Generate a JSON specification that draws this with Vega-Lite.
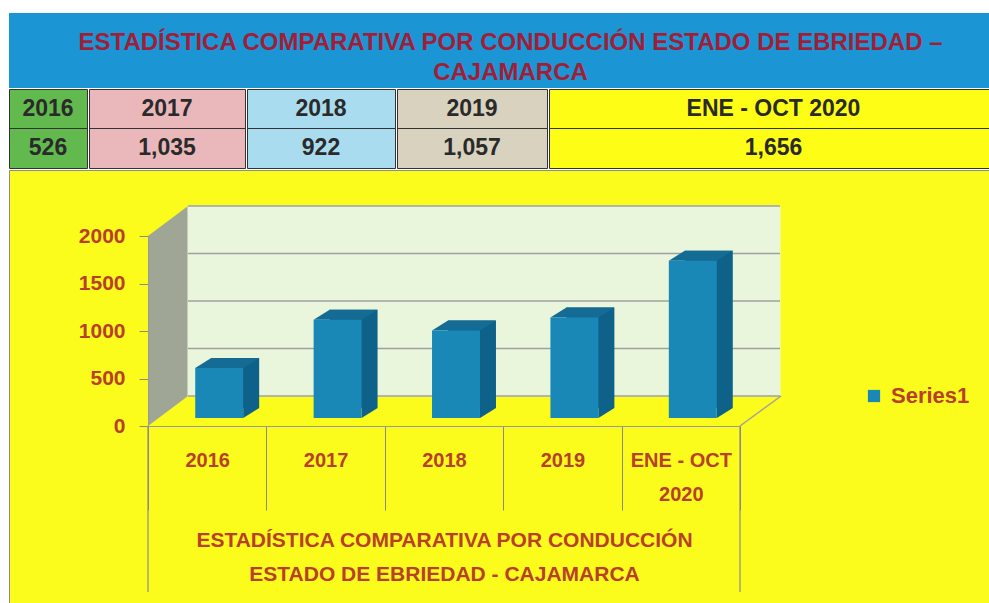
{
  "$schema": "https://vega.github.io/schema/vega-lite/v6.json",
  "background": "white",
  "padding": {"left": 8, "top": 13, "right": 0, "bottom": 0},
  "spacing": 0,
  "config": {"font": "Liberation Sans", "concat": {"spacing": 0}, "view": {"stroke": null}},
  "datasets": {
    "main": [
      {"period": "2016", "value": 526},
      {"period": "2017", "value": 1035},
      {"period": "2018", "value": 922},
      {"period": "2019", "value": 1057},
      {"period": "ENE - OCT 2020", "value": 1656}
    ],
    "heading": [{"text": "ESTADÍSTICA COMPARATIVA POR CONDUCCIÓN ESTADO DE EBRIEDAD –\nCAJAMARCA"}],
    "grid": [{"g": 0}, {"g": 500}, {"g": 1000}, {"g": 1500}, {"g": 2000}]
  },
  "vconcat": [
    {
      "width": 981, "height": 75,
      "view": {"fill": "#1c95d5", "stroke": null},
      "data": {"name": "heading"},
      "mark": {"type": "text", "fontSize": 24, "fontWeight": "bold", "color": "#a01f38", "lineBreak": "\n", "lineHeight": 30, "dx": 11, "dy": -8},
      "encoding": {"text": {"field": "text", "type": "nominal"}}
    },
    {
      "spacing": 0,
      "hconcat": [
        {
          "width": 78, "height": 79,
          "view": {"fill": "#62ba4f", "stroke": "#333333", "strokeWidth": 1},
          "data": {"name": "main"},
          "transform": [{"filter": "datum.period == '2016'"}],
          "layer": [
            {"mark": {"type": "text", "fontSize": 23, "fontWeight": "bold", "color": "#2a2a2a"},
             "encoding": {"y": {"datum": "h", "type": "nominal", "scale": {"type": "band", "domain": ["h", "v"], "paddingInner": 0, "paddingOuter": 0}, "axis": null}, "text": {"field": "period", "type": "nominal"}}},
            {"mark": {"type": "text", "fontSize": 23, "fontWeight": "bold", "color": "#2a2a2a"},
             "encoding": {"y": {"datum": "v", "type": "nominal", "scale": {"type": "band", "domain": ["h", "v"], "paddingInner": 0, "paddingOuter": 0}, "axis": null}, "text": {"field": "value", "type": "quantitative", "format": ","}}},
            {"mark": {"type": "rule", "color": "#333333"},
             "encoding": {"y": {"datum": "v", "type": "nominal", "bandPosition": 0, "scale": {"type": "band", "domain": ["h", "v"], "paddingInner": 0, "paddingOuter": 0}, "axis": null}}}
          ]
        },
        {
          "width": 156, "height": 79,
          "view": {"fill": "#eab8bb", "stroke": "#333333", "strokeWidth": 1},
          "data": {"name": "main"},
          "transform": [{"filter": "datum.period == '2017'"}],
          "layer": [
            {"mark": {"type": "text", "fontSize": 23, "fontWeight": "bold", "color": "#2a2a2a"},
             "encoding": {"y": {"datum": "h", "type": "nominal", "scale": {"type": "band", "domain": ["h", "v"], "paddingInner": 0, "paddingOuter": 0}, "axis": null}, "text": {"field": "period", "type": "nominal"}}},
            {"mark": {"type": "text", "fontSize": 23, "fontWeight": "bold", "color": "#2a2a2a"},
             "encoding": {"y": {"datum": "v", "type": "nominal", "scale": {"type": "band", "domain": ["h", "v"], "paddingInner": 0, "paddingOuter": 0}, "axis": null}, "text": {"field": "value", "type": "quantitative", "format": ","}}},
            {"mark": {"type": "rule", "color": "#333333"},
             "encoding": {"y": {"datum": "v", "type": "nominal", "bandPosition": 0, "scale": {"type": "band", "domain": ["h", "v"], "paddingInner": 0, "paddingOuter": 0}, "axis": null}}}
          ]
        },
        {
          "width": 148, "height": 79,
          "view": {"fill": "#a9dcee", "stroke": "#333333", "strokeWidth": 1},
          "data": {"name": "main"},
          "transform": [{"filter": "datum.period == '2018'"}],
          "layer": [
            {"mark": {"type": "text", "fontSize": 23, "fontWeight": "bold", "color": "#2a2a2a"},
             "encoding": {"y": {"datum": "h", "type": "nominal", "scale": {"type": "band", "domain": ["h", "v"], "paddingInner": 0, "paddingOuter": 0}, "axis": null}, "text": {"field": "period", "type": "nominal"}}},
            {"mark": {"type": "text", "fontSize": 23, "fontWeight": "bold", "color": "#2a2a2a"},
             "encoding": {"y": {"datum": "v", "type": "nominal", "scale": {"type": "band", "domain": ["h", "v"], "paddingInner": 0, "paddingOuter": 0}, "axis": null}, "text": {"field": "value", "type": "quantitative", "format": ","}}},
            {"mark": {"type": "rule", "color": "#333333"},
             "encoding": {"y": {"datum": "v", "type": "nominal", "bandPosition": 0, "scale": {"type": "band", "domain": ["h", "v"], "paddingInner": 0, "paddingOuter": 0}, "axis": null}}}
          ]
        },
        {
          "width": 150, "height": 79,
          "view": {"fill": "#d8d2be", "stroke": "#333333", "strokeWidth": 1},
          "data": {"name": "main"},
          "transform": [{"filter": "datum.period == '2019'"}],
          "layer": [
            {"mark": {"type": "text", "fontSize": 23, "fontWeight": "bold", "color": "#2a2a2a"},
             "encoding": {"y": {"datum": "h", "type": "nominal", "scale": {"type": "band", "domain": ["h", "v"], "paddingInner": 0, "paddingOuter": 0}, "axis": null}, "text": {"field": "period", "type": "nominal"}}},
            {"mark": {"type": "text", "fontSize": 23, "fontWeight": "bold", "color": "#2a2a2a"},
             "encoding": {"y": {"datum": "v", "type": "nominal", "scale": {"type": "band", "domain": ["h", "v"], "paddingInner": 0, "paddingOuter": 0}, "axis": null}, "text": {"field": "value", "type": "quantitative", "format": ","}}},
            {"mark": {"type": "rule", "color": "#333333"},
             "encoding": {"y": {"datum": "v", "type": "nominal", "bandPosition": 0, "scale": {"type": "band", "domain": ["h", "v"], "paddingInner": 0, "paddingOuter": 0}, "axis": null}}}
          ]
        },
        {
          "width": 449, "height": 79,
          "view": {"fill": "#fdfd16", "stroke": "#333333", "strokeWidth": 1},
          "data": {"name": "main"},
          "transform": [{"filter": "datum.period == 'ENE - OCT 2020'"}],
          "layer": [
            {"mark": {"type": "text", "fontSize": 23, "fontWeight": "bold", "color": "#2a2a2a"},
             "encoding": {"y": {"datum": "h", "type": "nominal", "scale": {"type": "band", "domain": ["h", "v"], "paddingInner": 0, "paddingOuter": 0}, "axis": null}, "text": {"field": "period", "type": "nominal"}}},
            {"mark": {"type": "text", "fontSize": 23, "fontWeight": "bold", "color": "#2a2a2a"},
             "encoding": {"y": {"datum": "v", "type": "nominal", "scale": {"type": "band", "domain": ["h", "v"], "paddingInner": 0, "paddingOuter": 0}, "axis": null}, "text": {"field": "value", "type": "quantitative", "format": ","}}},
            {"mark": {"type": "rule", "color": "#333333"},
             "encoding": {"y": {"datum": "v", "type": "nominal", "bandPosition": 0, "scale": {"type": "band", "domain": ["h", "v"], "paddingInner": 0, "paddingOuter": 0}, "axis": null}}}
          ]
        }
      ]
    },
    {
      "width": 981, "height": 433,
      "view": {"fill": "#fcfc1c", "stroke": "#8c8c8c"},
      "data": {"name": "main"},
      "layer": [
        {
          "transform": [{"filter": "datum.period == '2016'"}],
          "mark": {"type": "point", "shape": "M0,0 L0,-190 L40,-220 L40,-30 Z", "size": 4, "filled": true, "fill": "#9fa695", "strokeWidth": 0, "opacity": 1},
          "encoding": {
            "x": {"datum": "2016", "type": "nominal", "bandPosition": 0, "scale": {"type": "band", "domain": ["2016", "2017", "2018", "2019", "ENE - OCT 2020"], "range": [139, 731], "paddingInner": 0, "paddingOuter": 0}},
            "y": {"datum": 0, "type": "quantitative", "title": null, "scale": {"domain": [0, 2000], "range": [256, 66], "nice": false, "zero": true}}
          }
        },
        {
          "mark": {"type": "rect", "color": "#e9f6dc", "stroke": "#e9f6dc", "strokeWidth": 1, "xOffset": 40, "x2Offset": 40, "yOffset": -30, "y2Offset": -30},
          "encoding": {
            "x": {"field": "period", "type": "nominal", "scale": {"type": "band", "domain": ["2016", "2017", "2018", "2019", "ENE - OCT 2020"], "range": [139, 731], "paddingInner": 0, "paddingOuter": 0}},
            "y": {"datum": 0, "type": "quantitative", "title": null, "scale": {"domain": [0, 2000], "range": [256, 66], "nice": false, "zero": true}},
            "y2": {"datum": 2000}
          }
        },
        {
          "data": {"name": "grid"},
          "mark": {"type": "rule", "color": "#a0a0a0", "strokeWidth": 1.5, "xOffset": 40, "x2Offset": 40, "yOffset": -30},
          "encoding": {
            "x": {"datum": "2016", "type": "nominal", "bandPosition": 0, "scale": {"type": "band", "domain": ["2016", "2017", "2018", "2019", "ENE - OCT 2020"], "range": [139, 731], "paddingInner": 0, "paddingOuter": 0}},
            "x2": {"datum": "ENE - OCT 2020", "bandPosition": 1},
            "y": {"field": "g", "type": "quantitative", "title": null, "scale": {"domain": [0, 2000], "range": [256, 66], "nice": false, "zero": true}}
          }
        },
        {
          "transform": [{"filter": "datum.period == '2016'"}],
          "mark": {"type": "point", "shape": "M0,0 L41,-30", "size": 4, "filled": false, "stroke": "#a0a0a0", "strokeWidth": 1.5, "opacity": 1},
          "encoding": {
            "x": {"datum": "ENE - OCT 2020", "type": "nominal", "bandPosition": 1, "scale": {"type": "band", "domain": ["2016", "2017", "2018", "2019", "ENE - OCT 2020"], "range": [139, 731], "paddingInner": 0, "paddingOuter": 0}},
            "y": {"datum": 0, "type": "quantitative", "title": null, "scale": {"domain": [0, 2000], "range": [256, 66], "nice": false, "zero": true}}
          }
        },
        {
          "transform": [{"filter": "datum.period == '2016'"}],
          "mark": {"type": "point", "shape": "M0,0 L0,166", "size": 4, "filled": false, "stroke": "#8a8a8a", "strokeWidth": 1.2, "opacity": 1},
          "encoding": {
            "x": {"datum": "2016", "type": "nominal", "bandPosition": 0, "scale": {"type": "band", "domain": ["2016", "2017", "2018", "2019", "ENE - OCT 2020"], "range": [139, 731], "paddingInner": 0, "paddingOuter": 0}},
            "y": {"datum": 0, "type": "quantitative", "title": null, "scale": {"domain": [0, 2000], "range": [256, 66], "nice": false, "zero": true}}
          }
        },
        {
          "transform": [{"filter": "datum.period == '2016'"}],
          "mark": {"type": "point", "shape": "M0,0 L0,166", "size": 4, "filled": false, "stroke": "#8a8a8a", "strokeWidth": 1.2, "opacity": 1},
          "encoding": {
            "x": {"datum": "ENE - OCT 2020", "type": "nominal", "bandPosition": 1, "scale": {"type": "band", "domain": ["2016", "2017", "2018", "2019", "ENE - OCT 2020"], "range": [139, 731], "paddingInner": 0, "paddingOuter": 0}},
            "y": {"datum": 0, "type": "quantitative", "title": null, "scale": {"domain": [0, 2000], "range": [256, 66], "nice": false, "zero": true}}
          }
        },
        {
          "mark": {"type": "bar", "color": "#0e6188", "width": {"band": 0.405}, "xOffset": 28, "x2Offset": 28, "yOffset": -18, "y2Offset": -18},
          "encoding": {
            "x": {"field": "period", "type": "nominal", "scale": {"type": "band", "domain": ["2016", "2017", "2018", "2019", "ENE - OCT 2020"], "range": [139, 731], "paddingInner": 0, "paddingOuter": 0}},
            "y": {"field": "value", "type": "quantitative", "title": null, "scale": {"domain": [0, 2000], "range": [256, 66], "nice": false, "zero": true}}
          }
        },
        {
          "mark": {"type": "point", "shape": "M-24,0 L-8,-10 L40,-10 L24,0 Z", "size": 4, "filled": true, "fill": "#146c95", "strokeWidth": 0, "opacity": 1, "xOffset": 12, "yOffset": -8},
          "encoding": {
            "x": {"field": "period", "type": "nominal", "scale": {"type": "band", "domain": ["2016", "2017", "2018", "2019", "ENE - OCT 2020"], "range": [139, 731], "paddingInner": 0, "paddingOuter": 0}},
            "y": {"field": "value", "type": "quantitative", "title": null, "scale": {"domain": [0, 2000], "range": [256, 66], "nice": false, "zero": true}}
          }
        },
        {
          "mark": {"type": "point", "shape": "M24,0 L40,-10 L24,-10 Z", "size": 4, "filled": true, "fill": "#0e6188", "strokeWidth": 0, "opacity": 1, "xOffset": 12, "yOffset": -8},
          "encoding": {
            "x": {"field": "period", "type": "nominal", "scale": {"type": "band", "domain": ["2016", "2017", "2018", "2019", "ENE - OCT 2020"], "range": [139, 731], "paddingInner": 0, "paddingOuter": 0}},
            "y": {"datum": 0, "type": "quantitative", "title": null, "scale": {"domain": [0, 2000], "range": [256, 66], "nice": false, "zero": true}}
          }
        },
        {
          "mark": {"type": "bar", "width": {"band": 0.405}, "xOffset": 12, "x2Offset": 12, "yOffset": -8, "y2Offset": -8},
          "encoding": {
            "x": {
              "field": "period", "type": "nominal",
              "title": ["ESTADÍSTICA COMPARATIVA POR CONDUCCIÓN", "ESTADO DE EBRIEDAD - CAJAMARCA"],
              "scale": {"type": "band", "domain": ["2016", "2017", "2018", "2019", "ENE - OCT 2020"], "range": [139, 731], "paddingInner": 0, "paddingOuter": 0},
              "axis": {
                "orient": "bottom", "offset": -177, "zindex": 1,
                "domainColor": "#9a9a9a", "tickColor": "#8a8a8a", "tickBand": "extent", "tickSize": 84,
                "labelPadding": -60, "labelAngle": 0, "labelAlign": "center", "labelFontSize": 20, "labelFontWeight": "bold", "labelColor": "#b8402b",
                "labelLineHeight": 34, "labelBaseline": "top", "labelOverlap": false,
                "labelExpr": "length(datum.label) > 8 ? [substring(datum.label, 0, 9), substring(datum.label, 10)] : datum.label",
                "title": ["ESTADÍSTICA COMPARATIVA POR CONDUCCIÓN", "ESTADO DE EBRIEDAD - CAJAMARCA"],
                "titleFontSize": 21, "titleFontWeight": "bold", "titleColor": "#b8402b", "titlePadding": 19, "titleLineHeight": 34
              }
            },
            "y": {
              "field": "value", "type": "quantitative", "title": null,
              "scale": {"domain": [0, 2000], "range": [256, 66], "nice": false, "zero": true},
              "axis": {
                "orient": "left", "offset": -139, "zindex": 1, "values": [0, 500, 1000, 1500, 2000], "format": "d", "grid": false,
                "domainColor": "#9a9a9a", "tickColor": "#8a8a8a", "tickSize": 9, "labelPadding": 14,
                "labelFontSize": 21, "labelFontWeight": "bold", "labelColor": "#b8402b"
              }
            },
            "color": {
              "datum": "Series1", "type": "nominal",
              "scale": {"range": ["#1a88b6"]},
              "legend": {"orient": "none", "legendX": 854, "legendY": 372, "title": null, "symbolType": "square", "symbolSize": 150, "symbolStrokeWidth": 0, "labelFontSize": 22, "labelFontWeight": "bold", "labelColor": "#b8402b", "labelOffset": 6}
            }
          }
        }
      ]
    }
  ]
}
